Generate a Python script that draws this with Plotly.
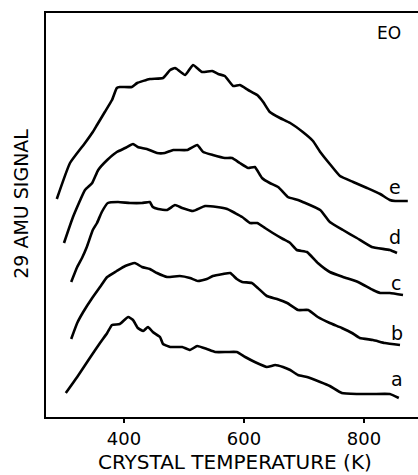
import plotly.graph_objects as go

# Crystal temperature (K) and 29 amu signal (arbitrary units) for each trace
T_e = [288, 310, 335, 348, 355, 368, 380, 388, 393, 413, 422, 443, 465, 477, 485, 488, 502, 515, 530, 547, 557, 568, 582, 593, 607, 622, 632, 643, 660, 677, 698, 715, 727, 743, 760, 782, 805, 827, 843, 852, 873]
S_e = [218, 254, 274, 285, 292, 305, 317, 329, 330, 330, 334, 338, 339, 347, 349, 348, 342, 352, 345, 346, 343, 341, 331, 332, 327, 322, 315, 305, 299, 294, 285, 276, 265, 253, 241, 235, 229, 223, 217, 216, 216]

T_d = [300, 315, 335, 347, 357, 372, 388, 402, 415, 423, 438, 455, 468, 482, 505, 522, 532, 548, 568, 580, 593, 607, 618, 630, 643, 657, 673, 690, 698, 727, 743, 765, 788, 813, 843, 855]
S_d = [174, 200, 227, 234, 247, 257, 265, 269, 273, 270, 268, 264, 264, 267, 267, 272, 265, 262, 259, 259, 254, 249, 250, 239, 234, 230, 220, 217, 215, 207, 195, 187, 179, 170, 167, 164]

T_c = [312, 322, 330, 338, 348, 355, 363, 373, 390, 410, 430, 443, 448, 457, 472, 485, 497, 515, 535, 555, 572, 585, 597, 610, 622, 635, 648, 665, 677, 688, 705, 723, 743, 765, 790, 815, 827, 843, 865]
S_c = [135, 150, 159, 170, 187, 194, 205, 214, 215, 214, 214, 215, 210, 208, 207, 212, 209, 206, 211, 210, 208, 204, 200, 194, 194, 189, 184, 178, 174, 167, 165, 154, 145, 140, 135, 127, 124, 124, 122]

T_b = [312, 322, 332, 347, 360, 372, 388, 402, 418, 430, 443, 455, 472, 493, 510, 523, 538, 548, 565, 577, 588, 597, 613, 623, 638, 655, 672, 690, 707, 723, 743, 763, 780, 793, 815, 835, 860]
S_b = [78, 94, 105, 119, 130, 140, 146, 151, 154, 150, 148, 144, 140, 141, 139, 136, 138, 141, 143, 144, 138, 135, 134, 129, 121, 118, 114, 107, 107, 100, 94, 89, 84, 79, 77, 74, 72]

T_a = [303, 322, 343, 360, 372, 380, 393, 407, 415, 423, 432, 440, 448, 460, 465, 477, 497, 510, 522, 538, 552, 572, 588, 602, 618, 638, 652, 665, 677, 690, 705, 727, 743, 763, 788, 815, 843, 858]
S_a = [24, 40, 59, 74, 84, 92, 93, 100, 97, 89, 86, 90, 85, 80, 73, 70, 70, 67, 71, 68, 65, 65, 65, 60, 55, 50, 52, 50, 47, 42, 40, 35, 31, 24, 23, 23, 23, 19]

curve_labels = ["e", "d", "c", "b", "a"]
label_T = [852, 852, 853, 855, 855]
label_S = [230, 180, 134, 84, 38]

x_ticks = [400, 600, 800]

series = [(T_e, S_e), (T_d, S_d), (T_c, S_c), (T_b, S_b), (T_a, S_a)]

fig = go.Figure()
for T, S in series:
    fig.add_trace(go.Scatter(x=T, y=S, mode="lines",
                             line=dict(color="black", width=2.6, shape="spline", smoothing=0.4),
                             showlegend=False, hoverinfo="skip"))

font = "DejaVu Sans"
annotations = []
for lab, tx, sy in zip(curve_labels, label_T, label_S):
    annotations.append(dict(x=tx, y=sy, xref="x", yref="y", text=lab, showarrow=False,
                            font=dict(family=font, size=19, color="black"),
                            xanchor="center", yanchor="middle"))
annotations.append(dict(x=842, y=384, xref="x", yref="y", text="EO", showarrow=False,
                        font=dict(family=font, size=17, color="black"),
                        xanchor="center", yanchor="middle"))
annotations.append(dict(x=0.508, y=-0.112, xref="paper", yref="paper",
                        text="CRYSTAL TEMPERATURE (K)", showarrow=False,
                        font=dict(family=font, size=20, color="black"),
                        xanchor="center", yanchor="middle"))
annotations.append(dict(x=-0.068, y=0.527, xref="paper", yref="paper",
                        text="29 AMU SIGNAL", showarrow=False, textangle=-90,
                        font=dict(family=font, size=19, color="black"),
                        xanchor="center", yanchor="middle"))

fig.update_layout(
    width=418, height=475,
    margin=dict(l=46, r=0, t=13, b=58),
    paper_bgcolor="white", plot_bgcolor="white",
    annotations=annotations,
    xaxis=dict(range=[270, 890], tickvals=x_ticks, ticktext=[str(v) for v in x_ticks],
               showline=True, linecolor="black", linewidth=2, mirror=True,
               ticks="outside", ticklen=4, tickwidth=1.5, tickcolor="black",
               showgrid=False, zeroline=False,
               tickfont=dict(family=font, size=18, color="black")),
    yaxis=dict(range=[0, 404], showline=True, linecolor="black", linewidth=2,
               showticklabels=False, ticks="", showgrid=False, zeroline=False),
)

fig.write_html("out.html", config={"displayModeBar": False},
               post_script="document.body.style.margin='0';document.body.style.overflow='hidden';")
